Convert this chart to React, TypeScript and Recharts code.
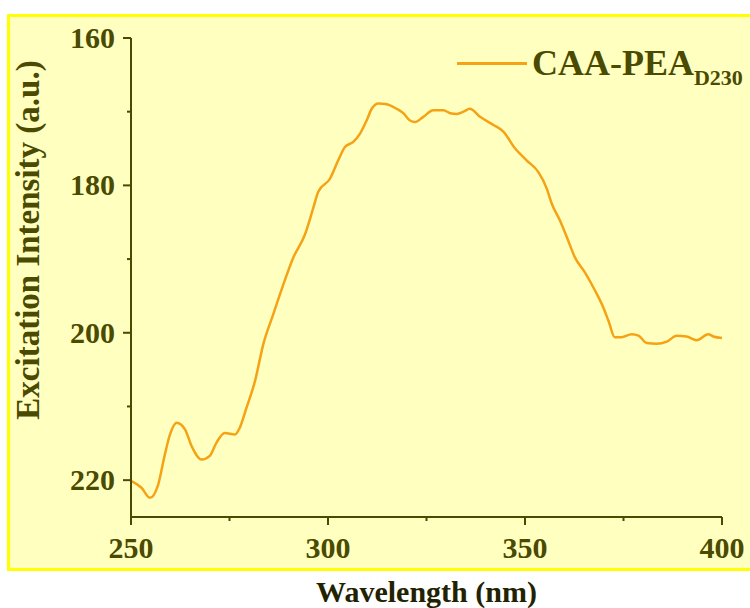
import { LineChart, Line, XAxis, YAxis, Legend, Label } from "recharts";

const wavelength = [
    250, 252.6, 254.8, 256.9, 258.6, 259.9, 261.6, 263.7, 265.4, 267.9, 270, 271.7, 273.8, 276.4, 277.6,
    279.3, 281.5, 283.6, 286.1, 288.7, 291.2, 294.2, 296.3, 297.5, 300.5, 302.6, 304.3, 306.4, 308.1,
    309.8, 311.1, 312.8, 314.9, 317.4, 319.1, 320.8, 322.1, 324.2, 326.7, 329.3, 331, 332.7, 334.4, 336,
    338.6, 342, 344.5, 347.5, 350.4, 353.4, 355.5, 356.8, 358.9, 360.6, 362.7, 365.2, 367.8, 369.9,
    371.2, 372.8, 374.5, 377.1, 378.8, 380.9, 383.4, 386, 388.5, 391, 393.6, 396.5, 397.8, 400,
];

const intensity = [
    220.1, 221.0, 222.4, 220.6, 216.5, 213.8, 212.2, 213.1, 215.4, 217.2, 216.7, 214.9, 213.6, 213.8, 212.9,
    210.2, 206.5, 201.5, 197.5, 193.4, 189.8, 186.6, 183, 180.9, 179.1, 176.6, 174.8, 174.1, 173,
    171.2, 169.6, 168.9, 169, 169.6, 170.2, 171.2, 171.4, 170.7, 169.8, 169.8, 170.2, 170.3, 170, 169.6,
    170.7, 171.8, 172.7, 175, 176.6, 178.2, 180.4, 182.5, 184.8, 187, 189.8, 191.8, 194.3, 196.6,
    198.4, 200.6, 200.6, 200.2, 200.4, 201.4, 201.5, 201.2, 200.4, 200.5, 201, 200.2, 200.5, 200.7,
];

const xTicks = [250, 275, 300, 325, 350, 375, 400];
const yTicks = [160, 170, 180, 190, 200, 210, 220];

const data = wavelength.map((wl, i) => ({ wl, value: intensity[i] }));

const INK = "#4a4a00";
const ORANGE = "#f5a214";
const FONT = "'Liberation Serif', 'Times New Roman', serif";

const XTick = (props: any) => {
    const { x, y, payload } = props;
    const major = payload.value % 50 === 0;
    return (
        <g>
            <line x1={x} y1={y} x2={x} y2={y + (major ? 8 : 4)} stroke={INK} strokeWidth={2} />
            {major && (
                <text x={x} y={y + 41} textAnchor="middle" fill={INK} fontFamily={FONT} fontWeight="bold" fontSize={30}>
                    {payload.value}
                </text>
            )}
        </g>
    );
};

const YTick = (props: any) => {
    const { x, y, payload } = props;
    const major = payload.value % 20 === 0;
    return (
        <g>
            <line x1={x} y1={y} x2={x - (major ? 8 : 4)} y2={y} stroke={INK} strokeWidth={2} />
            {major && (
                <text x={x - 16} y={y + 10} textAnchor="end" fill={INK} fontFamily={FONT} fontWeight="bold" fontSize={30}>
                    {payload.value}
                </text>
            )}
        </g>
    );
};

const XTitle = (props: any) => {
    const vb = props.viewBox;
    return (
        <text x={vb.x + vb.width / 2} y={vb.y + 85} textAnchor="middle" fill="#222200" fontFamily={FONT} fontWeight="bold" fontSize={30}>
            Wavelength (nm)
        </text>
    );
};

const YTitle = (props: any) => {
    const vb = props.viewBox;
    const cx = vb.x + 28;
    const cy = 240;
    return (
        <text x={cx} y={cy} transform={`rotate(-90 ${cx} ${cy})`} textAnchor="middle" dominantBaseline="central"
              fill={INK} fontFamily={FONT} fontWeight="bold" fontSize={33}>
            Excitation Intensity (a.u.)
        </text>
    );
};

const LegendBox = () => (
    <div style={{ display: "flex", alignItems: "center", fontFamily: FONT, fontWeight: "bold", color: INK, whiteSpace: "nowrap" }}>
        <span style={{ display: "inline-block", width: 70, height: 3, background: ORANGE, marginRight: 5 }} />
        <span style={{ fontSize: 36 }}>
            CAA-PEA<span style={{ fontSize: 22, position: "relative", top: 10 }}>D230</span>
        </span>
    </div>
);

export default function App() {
    return (
        <div style={{ position: "absolute", left: 0, top: 0, width: 750, height: 608, background: "#fff", overflow: "hidden" }}>
            <div style={{
                position: "absolute", left: 7, top: 14, width: 760, height: 551,
                border: "3px solid #ffff00", background: "#ffffc0",
            }} />
            <div style={{ position: "absolute", left: 0, top: 0 }}>
                <LineChart width={750} height={608} data={data} margin={{ top: 38, right: 28, left: 0, bottom: 0 }}>
                    <XAxis dataKey="wl" type="number" domain={[250, 400]} ticks={xTicks} interval={0}
                           height={91} tickSize={0} tickMargin={0} tick={<XTick />}
                           axisLine={{ stroke: INK, strokeWidth: 2 }}>
                        <Label content={<XTitle />} />
                    </XAxis>
                    <XAxis xAxisId="top" orientation="top" type="number" domain={[250, 400]} height={0}
                           tick={false} tickLine={false} axisLine={{ stroke: INK, strokeWidth: 2 }} />
                    <YAxis type="number" domain={[160, 225]} reversed ticks={yTicks} interval={0}
                           width={131} tickSize={0} tickMargin={0} tick={<YTick />}
                           axisLine={{ stroke: INK, strokeWidth: 2 }}>
                        <Label content={<YTitle />} />
                    </YAxis>
                    <YAxis yAxisId="right" orientation="right" type="number" domain={[160, 225]} width={0}
                           tick={false} tickLine={false} axisLine={{ stroke: INK, strokeWidth: 2 }} />
                    <Legend layout="horizontal" verticalAlign="middle" align="center"
                            wrapperStyle={{ left: 457, top: 42, width: "auto", height: "auto" }}
                            content={<LegendBox />} />
                    <Line type="monotone" dataKey="value" name="CAA-PEA D230" stroke={ORANGE} strokeWidth={2.5}
                          dot={false} isAnimationActive={false} />
                </LineChart>
            </div>
        </div>
    );
}
